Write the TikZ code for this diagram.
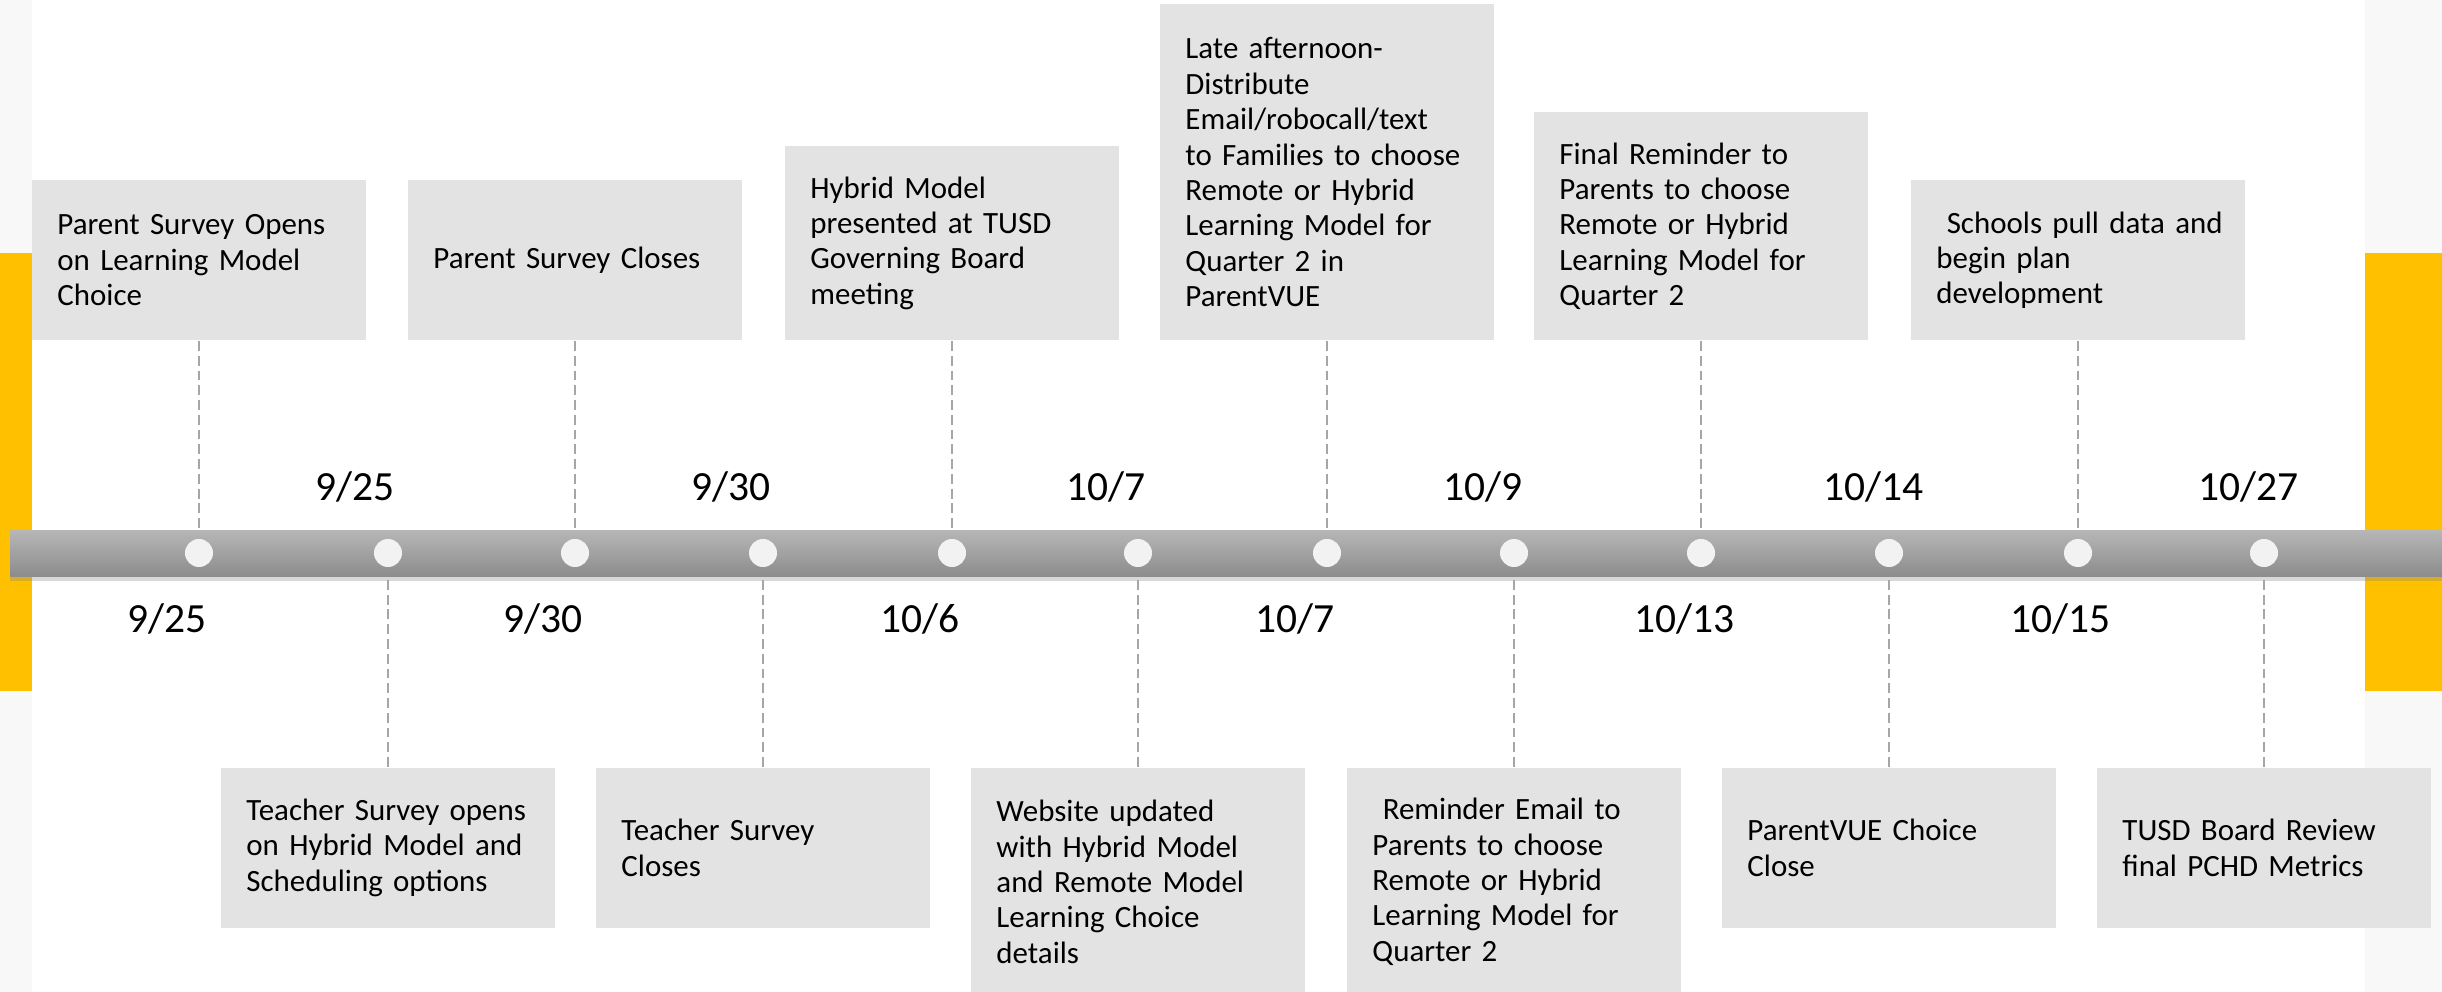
\documentclass[tikz,border=0pt]{standalone}
\usepackage{fontspec}
\setmainfont{Carlito}
\usepackage{tikz}
\usetikzlibrary{shadows}
\definecolor{gold}{HTML}{FFC000}
\definecolor{boxgray}{HTML}{E3E3E3}
\definecolor{bartop}{HTML}{B6B6B6}
\definecolor{barbot}{HTML}{8C8C8C}
\definecolor{dotgray}{HTML}{F2F2F2}
\definecolor{margin}{HTML}{F8F8F8}

\begin{document}
\begin{tikzpicture}[x=0.01cm, y=-0.01cm,
  evbox/.style={fill=boxgray, minimum width=3.33cm, text width=2.83cm, inner xsep=0.25cm,
    align=left, font=\fontsize{8.8}{10.05}\selectfont},
  topbox/.style={evbox, anchor=south, minimum height=#1},
  botbox/.style={evbox, anchor=north, minimum height=#1},
  datelbl/.style={anchor=base west, inner sep=0pt, font=\fontsize{11.8}{14}\selectfont},
  milestone/.style={circle, fill=dotgray, minimum size=0.28cm, inner sep=0pt},
  link/.style={draw=black!35, line width=0.45pt, dash pattern=on 2.8pt off 1.4pt}]
  \useasboundingbox (0,0) rectangle (2442,992);
  \fill[margin] (0,0) rectangle (2442,992);
  \fill[white] (32,0) rectangle (2365,992);
  \fill[gold] (0,253) rectangle (32,691);
  \fill[gold] (2365,253) rectangle (2442,691);

  \node[minimum width=24.31cm, minimum height=0.45cm, inner sep=0pt, top color=bartop, bottom color=barbot,
    drop shadow={shadow xshift=0pt, shadow yshift=-1.5pt, opacity=0.3}] (bar) at (1226.5,553.5) {};
  \foreach \i/\x in {1/199,2/388,3/575,4/763,5/952,6/1138,7/1327,8/1514,9/1701,10/1889,11/2078,12/2264}
    \node[milestone] (d\i) at (\x,553) {};

  \node[topbox=1.6cm] (e1) at (199,341) {Parent~Survey~Opens\\on Learning Model\\Choice};
  \node[botbox=1.6cm] (e2) at (388,767) {Teacher~Survey~opens\\on~Hybrid~Model~and\\Scheduling options};
  \node[topbox=1.6cm] (e3) at (575,341) {Parent~Survey~Closes};
  \node[botbox=1.6cm] (e4) at (763,767) {Teacher Survey\\Closes};
  \node[topbox=1.94cm] (e5) at (952,341) {Hybrid Model\\presented at TUSD\\Governing Board\\meeting};
  \node[botbox=2.28cm] (e6) at (1138,767) {Website updated\\with Hybrid Model\\and Remote Model\\Learning Choice\\details};
  \node[topbox=3.36cm] (e7) at (1327,341) {Late afternoon-\\Distribute\\Email/robocall/text\\to~Families~to~choose\\Remote or Hybrid\\Learning~Model~for\\Quarter 2 in\\ParentVUE};
  \node[botbox=2.28cm] (e8) at (1514,767) {~Reminder~Email~to\\Parents to choose\\Remote or Hybrid\\Learning~Model~for\\Quarter 2};
  \node[topbox=2.28cm] (e9) at (1701,341) {Final Reminder to\\Parents to choose\\Remote or Hybrid\\Learning~Model~for\\Quarter 2};
  \node[botbox=1.6cm] (e10) at (1889,767) {ParentVUE Choice\\Close};
  \node[topbox=1.6cm] (e11) at (2078,341) {~Schools~pull~data~and\\begin plan\\development};
  \node[botbox=1.6cm] (e12) at (2264,767) {TUSD~Board~Review\\final~PCHD~Metrics};

  \foreach \i in {1,3,5,7,9,11}
    \draw[link] (e\i) -- (e\i |- bar.north);
  \foreach \i in {2,4,6,8,10,12}
    \draw[link] (e\i) -- (e\i |- bar.south);

  \node[datelbl] (l1) at (127,633) {9/25};
  \node[datelbl] (l2) at (315,501) {9/25};
  \node[datelbl] (l3) at (503,633) {9/30};
  \node[datelbl] (l4) at (691,501) {9/30};
  \node[datelbl] (l5) at (880,633) {10/6};
  \node[datelbl] (l6) at (1066,501) {10/7};
  \node[datelbl] (l7) at (1255,633) {10/7};
  \node[datelbl] (l8) at (1443,501) {10/9};
  \node[datelbl] (l9) at (1634,633) {10/13};
  \node[datelbl] (l10) at (1823,501) {10/14};
  \node[datelbl] (l11) at (2010,633) {10/15};
  \node[datelbl] (l12) at (2198,501) {10/27};
\end{tikzpicture}
\end{document}
